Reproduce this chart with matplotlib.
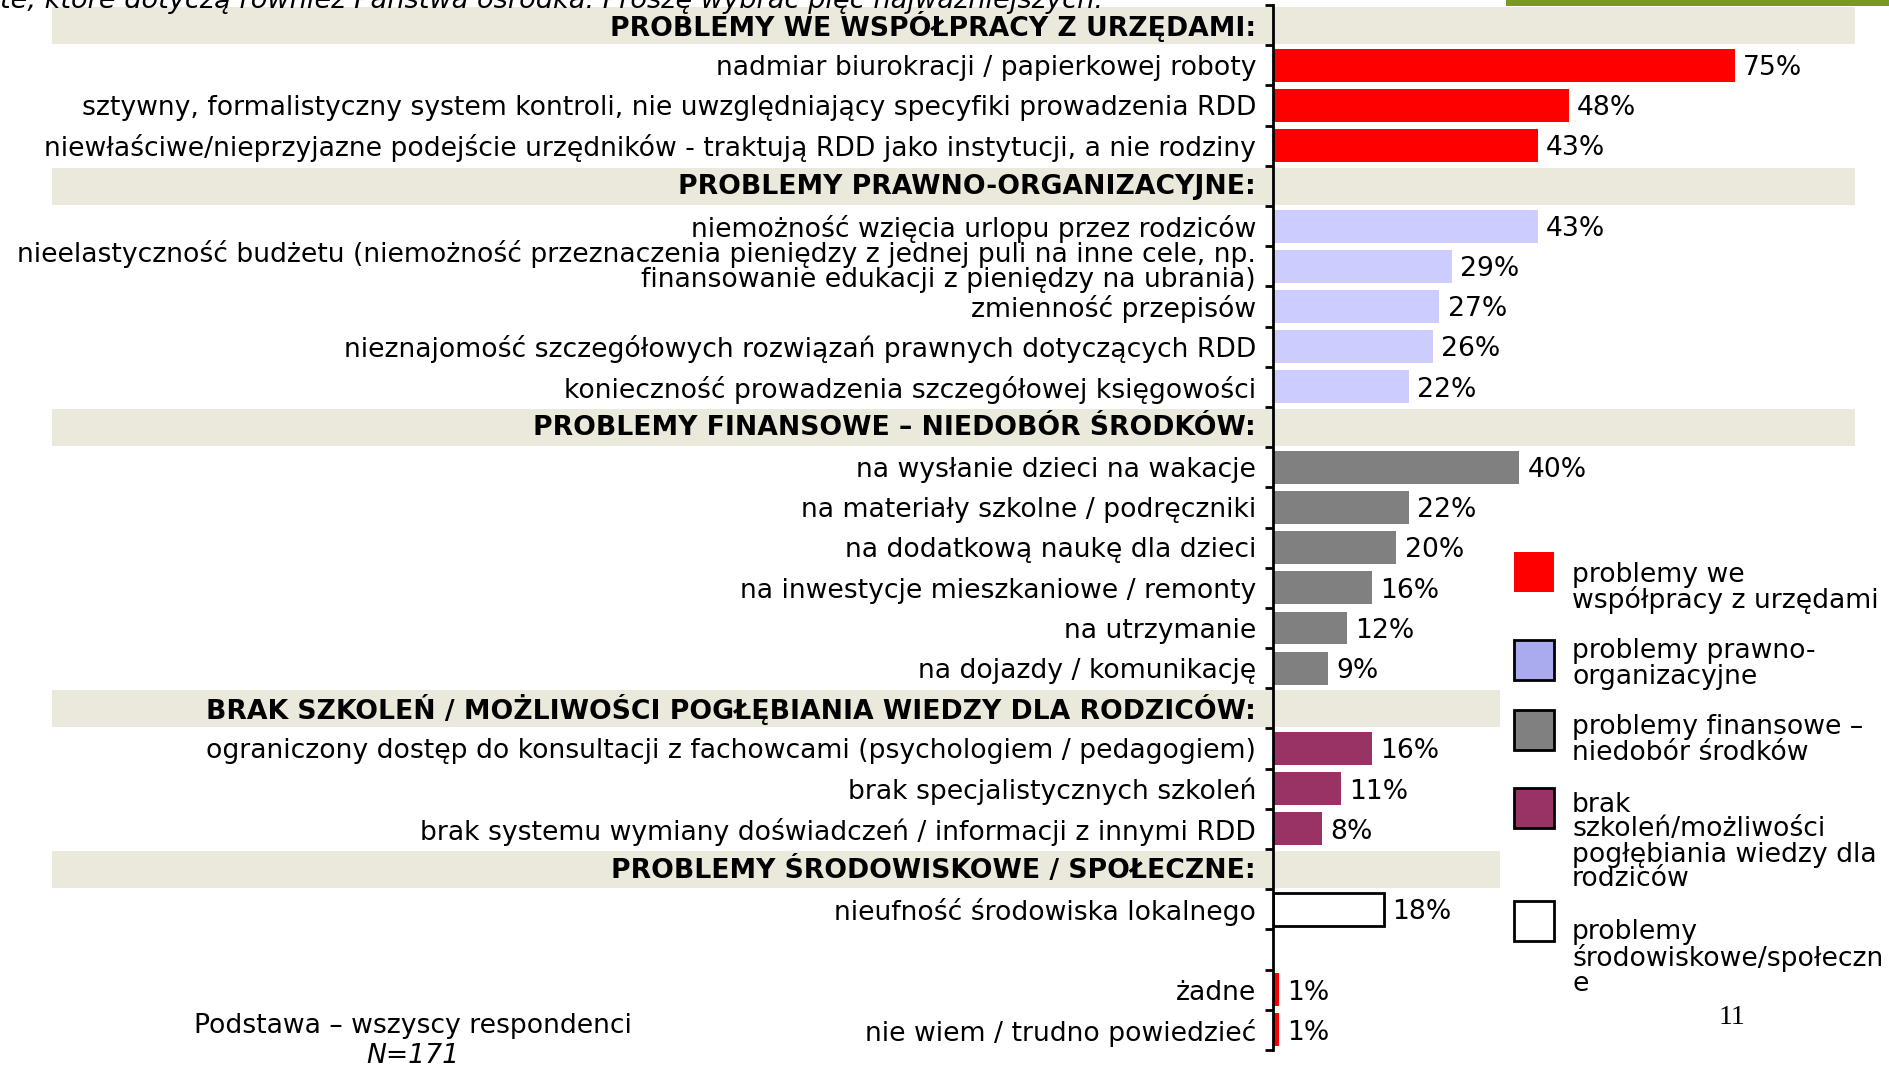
import matplotlib.pyplot as plt
import matplotlib.transforms as mtransforms
from matplotlib.patches import Rectangle

# dane
headers = ["PROBLEMY WE WSPÓŁPRACY Z URZĘDAMI:",
           "PROBLEMY PRAWNO-ORGANIZACYJNE:",
           "PROBLEMY FINANSOWE – NIEDOBÓR ŚRODKÓW:",
           "BRAK SZKOLEŃ / MOŻLIWOŚCI POGŁĘBIANIA WIEDZY DLA RODZICÓW:",
           "PROBLEMY ŚRODOWISKOWE / SPOŁECZNE:"]

urzedy_labels = ["nadmiar biurokracji / papierkowej roboty",
                 "sztywny, formalistyczny system kontroli, nie uwzględniający specyfiki prowadzenia RDD",
                 "niewłaściwe/nieprzyjazne podejście urzędników - traktują RDD jako instytucji, a nie rodziny"]
urzedy_values = [75, 48, 43]

prawne_labels = ["niemożność wzięcia urlopu przez rodziców",
                 "nieelastyczność budżetu (niemożność przeznaczenia pieniędzy z jednej puli na inne cele, np.\nfinansowanie edukacji z pieniędzy na ubrania)",
                 "zmienność przepisów",
                 "nieznajomość szczegółowych rozwiązań prawnych dotyczących RDD",
                 "konieczność prowadzenia szczegółowej księgowości"]
prawne_values = [43, 29, 27, 26, 22]

finanse_labels = ["na wysłanie dzieci na wakacje",
                  "na materiały szkolne / podręczniki",
                  "na dodatkową naukę dla dzieci",
                  "na inwestycje mieszkaniowe / remonty",
                  "na utrzymanie",
                  "na dojazdy / komunikację"]
finanse_values = [40, 22, 20, 16, 12, 9]

szkolenia_labels = ["ograniczony dostęp do konsultacji z fachowcami (psychologiem / pedagogiem)",
                    "brak specjalistycznych szkoleń",
                    "brak systemu wymiany doświadczeń / informacji z innymi RDD"]
szkolenia_values = [16, 11, 8]

spoleczne_labels = ["nieufność środowiska lokalnego"]
spoleczne_values = [18]

inne_labels = ["żadne", "nie wiem / trudno powiedzieć"]
inne_values = [1, 1]

legend_labels = ["problemy we\nwspółpracy z urzędami",
                 "problemy prawno-\norganizacyjne",
                 "problemy finansowe –\nniedobór środków",
                 "brak\nszkoleń/możliwości\npogłębiania wiedzy dla\nrodziców",
                 "problemy\nśrodowiskowe/społeczn\ne"]

# kolory grup
red = '#FF0000'
lav = '#CCCCFF'
gray = '#808080'
maroon = '#993366'
groups = [(urzedy_labels, urzedy_values, red, None),
          (prawne_labels, prawne_values, lav, None),
          (finanse_labels, finanse_values, gray, None),
          (szkolenia_labels, szkolenia_values, maroon, None),
          (spoleczne_labels, spoleczne_values, 'white', 'black')]

FS = 19.2
DY = 0.07  # tekst lekko niżej niż środek wiersza
plt.rcParams['font.family'] = ['DejaVu Sans']

fig = plt.figure(figsize=(18.89, 10.66), dpi=100)
W, H = 1889, 1066
ax = fig.add_axes([1273 / W, 16 / H, 616 / W, (1050 - 5) / H])
ax.set_zorder(2)

rows = []  # (label, value, color, edge, is_header)
for h, (labs, vals, c, e) in zip(headers, groups):
    rows.append((h, None, None, None, True))
    for l, v in zip(labs, vals):
        rows.append((l, v, c, e, False))
rows.append(("", None, None, None, False))
for l, v in zip(inne_labels, inne_values):
    rows.append((l, v, red, None, False))

n = len(rows)
band_tr = mtransforms.blended_transform_factory(fig.transFigure, ax.transData)
ylab_tr = ax.get_yaxis_transform()
hcount = 0
for i, (lab, val, col, edge, is_h) in enumerate(rows):
    if is_h:
        right = 1855 if hcount < 3 else 1500
        fig.patches.append(Rectangle((52 / W, i - 0.45), (right - 52) / W, 0.92,
                                     transform=band_tr, facecolor='#EBE8DC',
                                     edgecolor='none', zorder=0))
        ax.text(-17 / 616, i + 0.03, lab, transform=ylab_tr, ha='right', va='center',
                fontsize=FS, fontweight='bold', clip_on=False)
        hcount += 1
        continue
    if lab:
        dy = 0.0 if '\n' in lab else DY
        ax.text(-17 / 616, i + dy, lab, transform=ylab_tr, ha='right', va='center',
                fontsize=FS, linespacing=0.95, clip_on=False)
    if val is not None:
        ax.barh(i, val, height=0.82, color=col,
                edgecolor=edge if edge else 'none', linewidth=2 if edge else 0)
        ax.annotate(f"{val}%", (val, i + DY), xytext=(6, 0), textcoords='offset points',
                    ha='left', va='center', fontsize=FS)

ax.set_xlim(0, 100)
ax.set_ylim(n - 0.5, -0.5)
ax.patch.set_alpha(0)
for s in ['top', 'right', 'bottom']:
    ax.spines[s].set_visible(False)
ax.spines['left'].set_linewidth(2)
ax.spines['left'].set_zorder(5)
ax.set_xticks([])
ax.set_yticks([i - 0.5 for i in range(n + 1)])
ax.set_yticklabels([])
ax.tick_params(axis='y', length=6, width=2, direction='out')

# legenda
leg_colors = [red, '#AAAAEE', gray, maroon, 'white']
leg_edges = ['none', 'black', 'black', 'black', 'black']
leg_sq = [552, 640, 710, 788, 901]
leg_txt = [588, 664, 740, 842, 958]
for c, e, sq, ty, lab in zip(leg_colors, leg_edges, leg_sq, leg_txt, legend_labels):
    fig.patches.append(Rectangle((1514 / W, 1 - (sq + 40) / H), 40 / W, 40 / H,
                                 transform=fig.transFigure, facecolor=c,
                                 edgecolor=e, linewidth=2))
    fig.text(1572 / W, 1 - ty / H, lab, ha='left', va='center', fontsize=FS,
             linespacing=0.95)

# zielony pasek u góry
fig.patches.append(Rectangle((1506 / W, 1 - 6 / H), 383 / W, 6 / H,
                             transform=fig.transFigure, facecolor='#7A9A1E',
                             edgecolor='none'))

fig.text(0.0, 1 - 8 / H,
         "te, które dotyczą również Państwa ośrodka. Proszę wybrać pięć najważniejszych.",
         ha='left', va='baseline', fontsize=19.6, style='italic', zorder=3)

fig.text(413 / W, 1 - 1026 / H, "Podstawa – wszyscy respondenci", ha='center',
         va='center', fontsize=FS)
fig.text(413 / W, 1 - 1056 / H, "N=171", ha='center', va='center', fontsize=FS,
         style='italic')
fig.text(1732 / W, 1 - 1018 / H, "11", ha='center', va='center', fontsize=20,
         family='Liberation Serif')

fig.savefig('out.png', dpi=100)
